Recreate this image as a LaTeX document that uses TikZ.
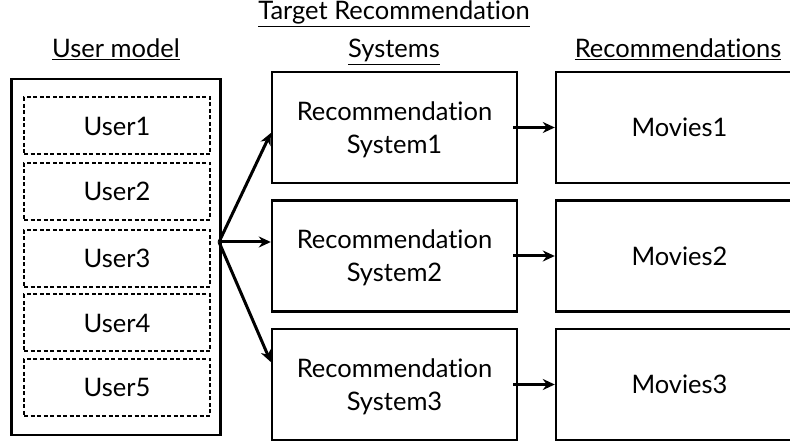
\documentclass[tikz,border=0pt]{standalone}
\usepackage{fontspec}
\setmainfont{Lato}[Ligatures=NoCommon]
\usetikzlibrary{arrows.meta}
\begin{document}
\begin{tikzpicture}[x=1pt,y=-1pt,
  txt/.style={font=\fontsize{25.5}{33}\selectfont, align=center},
  outerbox/.style={draw, line width=2.6pt, minimum width=209pt, minimum height=356pt},
  userbox/.style={draw, txt, line width=2pt, dash pattern=on 4pt off 2.5pt, minimum width=186pt, minimum height=57pt, inner sep=0pt},
  recbox/.style={draw, txt, line width=2.4pt, minimum width=245pt, minimum height=111pt, inner sep=0pt, text depth=0pt},
  hdr/.style={txt, anchor=base, inner sep=0pt},
  arr/.style={line width=3pt, -{Stealth[length=12pt,width=11pt]}}
]
\useasboundingbox (0,0) rectangle (790,443);
\clip (0,0) rectangle (790,443);
\fill[white] (0,0) rectangle (790,443);

% headers
\node[hdr] (h1) at (116,58) {\underline{User model}};
\node[hdr] (h2a) at (394,20) {\underline{Target Recommendation}};
\node[hdr] (h2b) at (394,58) {\underline{Systems}};
\node[hdr] (h3) at (678,58) {\underline{Recommendations}};

% user model
\node[outerbox] (um) at (116,257) {};
\node[userbox] (u1) at (117,126) {User1};
\node[userbox] (u2) at (117,191.5) {User2};
\node[userbox] (u3) at (117,258.5) {User3};
\node[userbox] (u4) at (117,323) {User4};
\node[userbox] (u5) at (117,387.5) {User5};

% recommendation systems
\node[recbox] (r1) at (394.5,127.5) {Recommendation\\System1};
\node[recbox] (r2) at (394.5,256) {Recommendation\\System2};
\node[recbox] (r3) at (394.5,384.5) {Recommendation\\System3};

% movies
\node[recbox, minimum width=247pt] (m1) at (679.5,127.5) {Movies1};
\node[recbox, minimum width=247pt] (m2) at (679.5,256) {Movies2};
\node[recbox, minimum width=247pt] (m3) at (679.5,384.5) {Movies3};

% fan arrows
\coordinate (fan) at (219,242);
\draw[arr] (fan) -- (r1.west |- 0,133);
\draw[arr] (fan) -- (r2.west |- fan);
\draw[arr] (fan) -- (r3.west |- 0,362);

% rec -> movies
\draw[arr] ([xshift=-5pt]r1.east) -- (m1.west);
\draw[arr] ([xshift=-5pt]r2.east) -- (m2.west);
\draw[arr] ([xshift=-5pt]r3.east) -- (m3.west);
\end{tikzpicture}
\end{document}
